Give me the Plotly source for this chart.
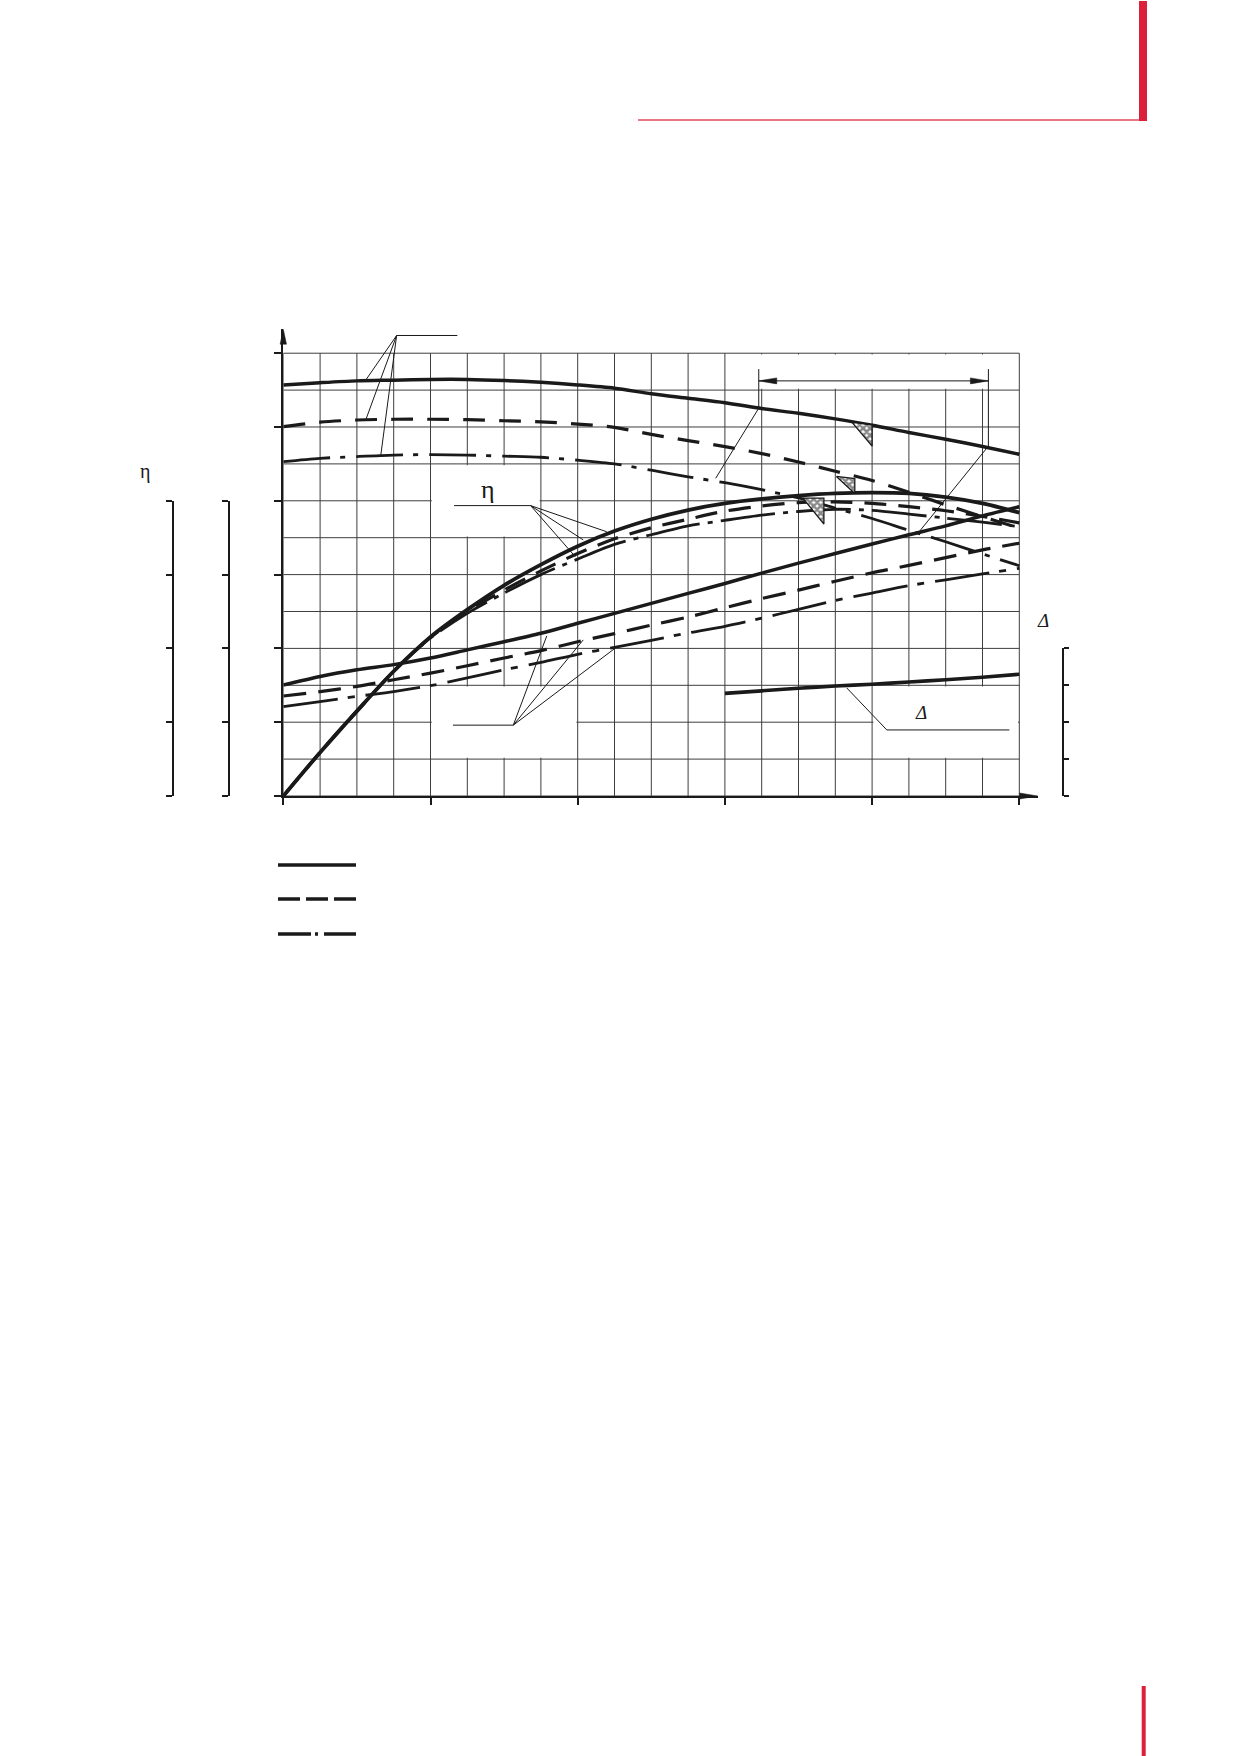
import plotly.graph_objects as go

# ---------------- page / plot geometry (pixels) ----------------
W, H = 1239, 1756
X0, X20 = 283.3, 1019.3      # pixel x of grid column 0 and 20
Y0, Y12 = 796.0, 353.2       # pixel y of grid row 0 and 12
CX = (X20 - X0) / 20.0
CY = (Y0 - Y12) / 12.0
XMAX, YMAX = 20.5, 12.65     # axis extents (arrow tips)

def px(x):   # page pixel x -> paper
    return x / W

def py(y):   # page pixel y -> paper
    return 1 - y / H

# ---------------- data (grid units) ----------------
q = list(range(21))
h_solid = [11.14, 11.20, 11.25, 11.27, 11.29, 11.29, 11.26, 11.21, 11.14, 11.05, 10.90,
           10.78, 10.66, 10.50, 10.37, 10.22, 10.05, 9.85, 9.67, 9.47, 9.26]
h_dash = [10.01, 10.13, 10.19, 10.21, 10.21, 10.20, 10.17, 10.14, 10.08, 9.99, 9.80,
          9.63, 9.47, 9.28, 9.05, 8.80, 8.55, 8.23, 7.89, 7.57, 7.26]
h_dashdot = [9.06, 9.15, 9.20, 9.24, 9.25, 9.24, 9.21, 9.18, 9.10, 9.00, 8.83,
             8.65, 8.49, 8.30, 8.08, 7.80, 7.52, 7.20, 6.89, 6.56, 6.24]
eta_solid = [0.0, 1.18, 2.30, 3.38, 4.31, 5.05, 5.71, 6.27, 6.77, 7.18, 7.50,
             7.75, 7.93, 8.05, 8.14, 8.20, 8.22, 8.20, 8.10, 7.93, 7.68]
eta_dash = [0.0, 1.18, 2.30, 3.38, 4.30, 5.00, 5.58, 6.10, 6.57, 6.97, 7.27,
            7.50, 7.72, 7.86, 7.95, 7.97, 7.93, 7.84, 7.73, 7.58, 7.40]
eta_dashdot = [0.0, 1.18, 2.30, 3.38, 4.28, 4.95, 5.50, 6.00, 6.42, 6.82, 7.08,
               7.32, 7.47, 7.61, 7.71, 7.77, 7.74, 7.64, 7.53, 7.42, 7.30]
n_solid = [3.01, 3.24, 3.42, 3.56, 3.74, 3.96, 4.18, 4.41, 4.68, 4.95, 5.22,
           5.49, 5.76, 6.04, 6.31, 6.57, 6.83, 7.08, 7.32, 7.59, 7.84]
n_dash = [2.71, 2.83, 2.97, 3.15, 3.33, 3.53, 3.74, 3.94, 4.18, 4.40, 4.63,
          4.85, 5.10, 5.35, 5.58, 5.82, 6.05, 6.25, 6.46, 6.67, 6.85]
n_dashdot = [2.42, 2.56, 2.70, 2.83, 2.99, 3.20, 3.42, 3.62, 3.84, 4.03, 4.22,
             4.42, 4.60, 4.82, 5.06, 5.30, 5.50, 5.70, 5.86, 6.02, 6.17]
dh_q = [12, 13, 14, 15, 16, 17, 18, 19, 20]
dh = [2.78, 2.85, 2.92, 2.98, 3.03, 3.09, 3.15, 3.22, 3.30]

# grid and scale ticks
grid_cols = list(range(21))
grid_rows = list(range(13))
x_ticks = [0, 4, 8, 12, 16, 20]
y_ticks = [0, 2, 4, 6, 8, 10, 12]
left_scale_ticks = [0, 2, 4, 6, 8]
dh_scale_ticks = [0, 1, 2, 3, 4]

# blank label boxes in grid (c0, c1, r0, r1)
blank_boxes = [(4, 7, 7, 9), (4, 8, 1, 3), (12, 20, 11, 12), (16, 20, 1, 3)]

# hatched operating-point triangles
tri_pts = [
    [(15.45, 10.13), (16.0, 10.05), (16.0, 9.48)],
    [(15.03, 8.66), (15.53, 8.60), (15.53, 8.20)],
    [(14.12, 8.07), (14.69, 8.07), (14.69, 7.37)],
]

# leader lines: (tail start, hub, list of ends)
leaders = [
    ((4.73, 12.48), (3.08, 12.48), [(2.24, 11.27), (2.24, 10.19), (2.65, 9.24)]),
    ((4.64, 7.87), (6.72, 7.87), [(8.79, 7.16), (8.15, 6.94), (7.93, 6.49)]),
    ((4.61, 1.92), (6.25, 1.92), [(7.16, 4.34), (8.15, 4.23), (9.01, 4.00)]),
]
dh_leader = [(15.31, 2.93), (16.4, 1.79), (19.73, 1.79)]
work_left, work_right, work_row, work_ext_top = 12.92, 19.16, 11.25, 11.57
work_left_h, work_right_h = 10.51, 9.43
work_leads = [((12.92, 10.51), (11.75, 8.61)), ((19.11, 9.42), (17.27, 7.15))]

INK = "#1a1a1a"
GRID = "#3e3e3e"

fig = go.Figure()

def curve(x, y, dash, width):
    fig.add_trace(go.Scatter(
        x=x, y=y, mode="lines",
        line=dict(color=INK, width=width, dash=dash, shape="spline", smoothing=0.8),
        showlegend=False, hoverinfo="skip"))

curve(q, h_solid, "solid", 3.5)
curve(q, h_dash, "22px,14px", 3.2)
curve(q, h_dashdot, "47px,10px,5px,11px", 2.8)
curve(q, eta_solid, "solid", 3.8)
curve(q, eta_dash, "22px,12px", 3.2)
curve(q, eta_dashdot, "55px,8px,5px,8px", 2.8)
curve(q, n_solid, "solid", 3.5)
curve(q, n_dash, "23px,12px", 3.2)
curve(q, n_dashdot, "55px,10px,7px,11px", 2.8)
curve(dh_q, dh, "solid", 3.6)

for tri in tri_pts:
    xs = [p[0] for p in tri] + [tri[0][0]]
    ys = [p[1] for p in tri] + [tri[0][1]]
    fig.add_trace(go.Scatter(
        x=xs, y=ys, mode="lines", fill="toself",
        fillcolor="white",
        fillpattern=dict(shape="x", size=5, solidity=0.75, fgcolor="#111111", bgcolor="white"),
        line=dict(color=INK, width=1.3), showlegend=False, hoverinfo="skip"))

# dummy traces so the side scales are drawn
for ya in ["y2", "y3", "y4"]:
    fig.add_trace(go.Scatter(x=[None], y=[None], yaxis=ya, showlegend=False, hoverinfo="skip"))

shapes = []
# grid
for c in grid_cols:
    shapes.append(dict(type="line", xref="x", yref="y", x0=c, x1=c, y0=0, y1=12,
                       line=dict(color=GRID, width=1), layer="below"))
for r in grid_rows:
    shapes.append(dict(type="line", xref="x", yref="y", x0=0, x1=20, y0=r, y1=r,
                       line=dict(color=GRID, width=1), layer="below"))
eps = 0.035
for c0, c1, r0, r1 in blank_boxes:
    shapes.append(dict(type="rect", xref="x", yref="y", x0=c0 + eps, x1=c1 - eps,
                       y0=r0 + eps, y1=r1 - eps, fillcolor="white",
                       line=dict(width=0), layer="below"))

def seg(a, b, w=1.0):
    shapes.append(dict(type="line", xref="x", yref="y", x0=a[0], y0=a[1], x1=b[0], y1=b[1],
                       line=dict(color=INK, width=w)))

for tail, hub, ends in leaders:
    seg(tail, hub)
    for e in ends:
        seg(hub, e)
seg(dh_leader[0], dh_leader[1])
seg(dh_leader[1], dh_leader[2])
# working range dimension
seg((work_left, work_row), (work_right, work_row))
seg((work_left, work_ext_top), (work_left, work_left_h))
seg((work_right, work_ext_top), (work_right, work_right_h))
for a, b in work_leads:
    seg(a, b)
# dimension arrowheads (slim filled triangles)
al, ah = 18.0 / CX, 3.0 / CY
for tip, d in [(work_left, 1), (work_right, -1)]:
    shapes.append(dict(type="path", xref="x", yref="y",
                       path=f"M{tip},{work_row} L{tip + d * al},{work_row + ah} "
                            f"L{tip + d * al},{work_row - ah} Z",
                       fillcolor=INK, line=dict(color=INK, width=0.5)))

# axis arrowheads
xa_tip = XMAX
shapes.append(dict(type="path", xref="x", yref="paper",
                   path=f"M{xa_tip},{py(Y0)} L{xa_tip - 18 / CX},{py(Y0 - 3)} "
                        f"L{xa_tip - 18 / CX},{py(Y0 + 3)} Z",
                   fillcolor=INK, line=dict(color=INK, width=0.5)))
shapes.append(dict(type="path", xref="paper", yref="y",
                   path=f"M{px(X0)},{YMAX} L{px(X0 - 3.2)},{YMAX - 15 / CY} "
                        f"L{px(X0 + 3.2)},{YMAX - 15 / CY} Z",
                   fillcolor=INK, line=dict(color=INK, width=0.5)))

# legend samples
leg_y = [865, 899, 934]
leg_dash = ["solid", "22px,6px", "33px,4px,3px,6px"]
for yy, dd in zip(leg_y, leg_dash):
    shapes.append(dict(type="line", xref="paper", yref="paper",
                       x0=px(278), x1=px(356), y0=py(yy), y1=py(yy),
                       line=dict(color=INK, width=3.5, dash=dd)))

# red page decorations
RED = "#dc1f3b"
shapes.append(dict(type="line", xref="paper", yref="paper", x0=px(638), x1=px(1141),
                   y0=py(120), y1=py(120), line=dict(color="#e04a60", width=1.6)))
shapes.append(dict(type="rect", xref="paper", yref="paper", x0=px(1139), x1=px(1147),
                   y0=py(121), y1=py(1), fillcolor=RED, line=dict(width=0)))
shapes.append(dict(type="rect", xref="paper", yref="paper", x0=px(1141.7), x1=px(1145.7),
                   y0=py(1756), y1=py(1686), fillcolor=RED, line=dict(width=0)))

ann_font = dict(family="Liberation Serif", color=INK)
annotations = [
    dict(text="η", xref="paper", yref="paper", x=px(144.5), y=py(472), showarrow=False,
         xanchor="center", yanchor="middle", font=dict(size=20, **ann_font)),
    dict(text="η", xref="x", yref="y", x=5.55, y=8.3, showarrow=False,
         xanchor="center", yanchor="middle", font=dict(size=26, **ann_font)),
    dict(text="<i>Δ</i>", xref="x", yref="y", x=17.34, y=2.25, showarrow=False,
         xanchor="center", yanchor="middle", font=dict(size=19, **ann_font)),
    dict(text="<i>Δ</i>", xref="paper", yref="paper", x=px(1043), y=py(620), showarrow=False,
         xanchor="center", yanchor="middle", font=dict(size=19, **ann_font)),
]

yd0 = py(Y0)
def ydom(top_row):
    return [yd0, py(Y0 - top_row * CY)]

side_axis = dict(anchor="free", showline=True, linewidth=2, linecolor=INK,
                 ticks="outside", tickwidth=2, tickcolor=INK, showticklabels=False,
                 showgrid=False, zeroline=False, fixedrange=True)

fig.update_layout(
    width=W, height=H, autosize=False,
    margin=dict(l=0, r=0, t=0, b=0, pad=0),
    paper_bgcolor="white", plot_bgcolor="rgba(0,0,0,0)",
    showlegend=False,
    xaxis=dict(domain=[px(X0), px(X0 + XMAX * CX)], range=[0, XMAX], showline=True,
               linewidth=2, linecolor=INK, ticks="outside", tickvals=x_ticks, ticklen=7,
               tickwidth=2, tickcolor=INK, showticklabels=False, showgrid=False,
               zeroline=False, fixedrange=True, anchor="y"),
    yaxis=dict(domain=ydom(YMAX), range=[0, YMAX], showline=True, linewidth=2,
               linecolor=INK, ticks="outside", tickvals=y_ticks, ticklen=7, tickwidth=2,
               tickcolor=INK, showticklabels=False, showgrid=False, zeroline=False,
               fixedrange=True, anchor="x"),
    yaxis2=dict(domain=ydom(8), range=[0, 8], position=px(173.3), side="left",
                tickvals=left_scale_ticks, ticklen=6, **side_axis),
    yaxis3=dict(domain=ydom(8), range=[0, 8], position=px(229.3), side="left",
                tickvals=left_scale_ticks, ticklen=6, **side_axis),
    yaxis4=dict(domain=ydom(4), range=[0, 4], position=px(1063.3), side="right",
                tickvals=dh_scale_ticks, ticklen=5, **side_axis),
    shapes=shapes,
    annotations=annotations,
)

fig.write_html("out.html", config={"displayModeBar": False},
               post_script="document.body.style.margin='0';document.body.style.overflow='hidden';")
